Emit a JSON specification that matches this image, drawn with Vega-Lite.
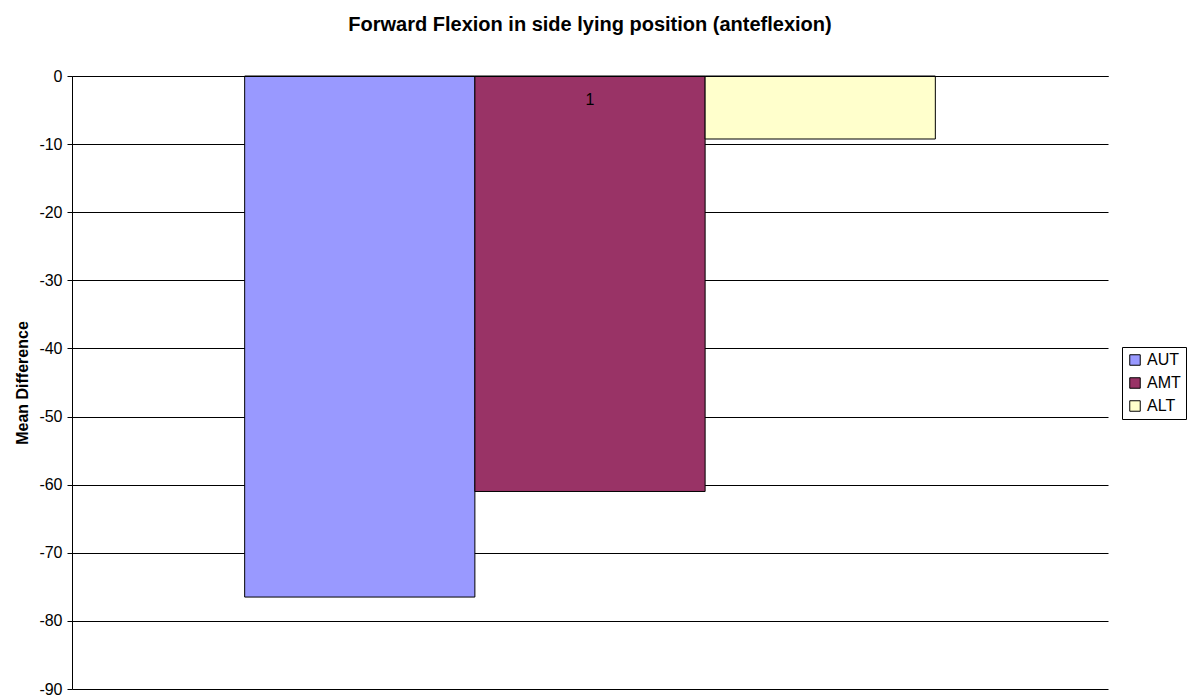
{
  "$schema": "https://vega.github.io/schema/vega-lite/v6.json",
  "autosize": {"type": "none"},
  "width": 1036,
  "height": 613,
  "padding": {"left": 72, "top": 76, "right": 82, "bottom": 11},
  "background": "white",
  "config": {
    "font": "Liberation Sans",
    "view": {"stroke": null}
  },
  "title": {
    "text": "Forward Flexion in side lying position (anteflexion)",
    "fontSize": 20,
    "fontWeight": "bold",
    "font": "Liberation Sans",
    "color": "#000",
    "anchor": "middle",
    "offset": 33
  },
  "data": {
    "values": [
      {"category": "1", "series": "AUT", "value": -76.5},
      {"category": "1", "series": "AMT", "value": -61.0},
      {"category": "1", "series": "ALT", "value": -9.25}
    ]
  },
  "mark": {"type": "bar", "stroke": "#000", "strokeWidth": 1},
  "encoding": {
    "x": {
      "field": "category",
      "type": "nominal",
      "scale": {"paddingOuter": 0.25, "paddingInner": 0},
      "axis": {
        "orient": "bottom",
        "offset": -613,
        "title": null,
        "labelAngle": 0,
        "labelFontSize": 16,
        "labelColor": "#000",
        "labelPadding": 15,
        "ticks": false,
        "domainColor": "#000",
        "domainWidth": 1,
        "zindex": 1
      }
    },
    "xOffset": {
      "field": "series",
      "type": "nominal",
      "sort": ["AUT", "AMT", "ALT"],
      "scale": {"paddingInner": 0, "paddingOuter": 0}
    },
    "y": {
      "field": "value",
      "type": "quantitative",
      "scale": {"domain": [-90, 0], "nice": false, "zero": false},
      "axis": {
        "title": "Mean Difference",
        "titleFontSize": 16,
        "titleFontWeight": "bold",
        "titleColor": "#000",
        "titlePadding": 8,
        "values": [-90, -80, -70, -60, -50, -40, -30, -20, -10, 0],
        "labelExpr": "datum.value + ''",
        "labelFontSize": 16,
        "labelColor": "#000",
        "labelPadding": 5,
        "tickSize": 5,
        "tickColor": "#000",
        "domainColor": "#000",
        "grid": true,
        "gridColor": "#000",
        "gridWidth": 1
      }
    },
    "fill": {
      "field": "series",
      "type": "nominal",
      "sort": ["AUT", "AMT", "ALT"],
      "scale": {"domain": ["AUT", "AMT", "ALT"], "range": ["#9999FF", "#993366", "#FFFFCC"]},
      "legend": {
        "title": null,
        "orient": "none",
        "legendX": 1050,
        "legendY": 271,
        "symbolType": "square",
        "symbolSize": 110,
        "symbolStrokeColor": "#000",
        "symbolStrokeWidth": 1,
        "labelFontSize": 16,
        "labelColor": "#000",
        "labelOffset": 4,
        "rowPadding": 7,
        "padding": 5,
        "strokeColor": "#000",
        "fillColor": "white"
      }
    }
  }
}
